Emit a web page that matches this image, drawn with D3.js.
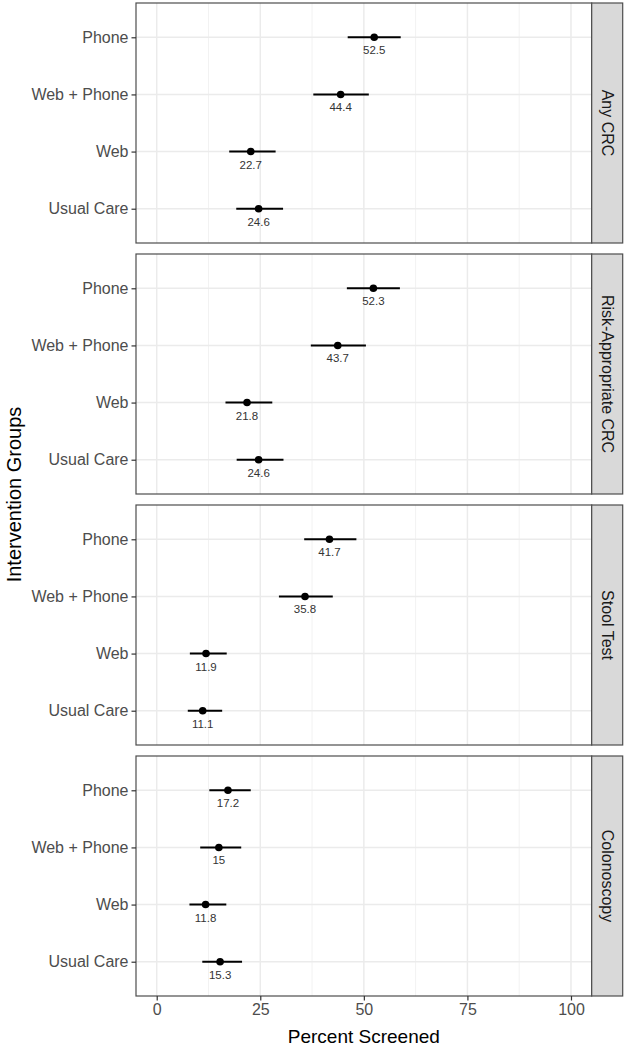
<!DOCTYPE html>
<html>
<head>
<meta charset="utf-8">
<script src="https://cdn.jsdelivr.net/npm/d3@7"></script>
<style>
  body { margin: 0; background: #fff; }
  svg { font-family: "Liberation Sans", Arial, sans-serif; display: block; }
</style>
</head>
<body>
<div id="chart"></div>
<script>
// data
var groups = ["Phone", "Web + Phone", "Web", "Usual Care"];
var outcomes = ["Any CRC", "Risk-Appropriate CRC", "Stool Test", "Colonoscopy"];
var estimates = [
    [52.5, 44.4, 22.7, 24.6],
    [52.3, 43.7, 21.8, 24.6],
    [41.7, 35.8, 11.9, 11.1],
    [17.2, 15, 11.8, 15.3]
];
var lowerCI = [
    [46.1, 37.8, 17.5, 19.2],
    [45.9, 37.2, 16.6, 19.3],
    [35.6, 29.5, 8.0, 7.5],
    [12.7, 10.5, 7.9, 11.0]
];
var upperCI = [
    [58.9, 51.2, 28.7, 30.5],
    [58.7, 50.5, 27.9, 30.6],
    [48.2, 42.5, 16.9, 15.8],
    [22.7, 20.4, 16.8, 20.6]
];
var xTicks = [0, 25, 50, 75, 100];
var xMinor = [12.5, 37.5, 62.5, 87.5];

var svgWidth = 627;
var svgHeight = 1050;

var plotLeft = 136;
var plotRight = 591.7;
var stripWidth = 31;
var panelTop = 3;
var panelHeight = 240;
var panelGap = 11;

var svg = d3.select("#chart")
    .append("svg")
    .attr("width", svgWidth)
    .attr("height", svgHeight);

var x = d3.scaleLinear()
    .domain([-5, 105])
    .range([plotLeft, plotRight]);

var y = d3.scalePoint()
    .domain(groups)
    .range([0, panelHeight])
    .padding(0.6);

outcomes.forEach(function(outcome, i) {
    var top = panelTop + i * (panelHeight + panelGap);
    var panel = svg.append("g")
        .attr("transform", `translate(0, ${top})`);

    var rows = groups.map(function(g, j) {
        return { group: g, est: estimates[i][j], lo: lowerCI[i][j], hi: upperCI[i][j] };
    });

    // minor grid
    panel.selectAll(".minor")
        .data(xMinor)
        .enter()
        .append("line")
        .attr("x1", d => x(d))
        .attr("x2", d => x(d))
        .attr("y1", 0)
        .attr("y2", panelHeight)
        .attr("stroke", "#f2f2f2")
        .attr("stroke-width", 1);

    // major grid
    panel.selectAll(".majorx")
        .data(xTicks)
        .enter()
        .append("line")
        .attr("x1", d => x(d))
        .attr("x2", d => x(d))
        .attr("y1", 0)
        .attr("y2", panelHeight)
        .attr("stroke", "#ebebeb")
        .attr("stroke-width", 1.5);

    panel.selectAll(".majory")
        .data(groups)
        .enter()
        .append("line")
        .attr("x1", plotLeft)
        .attr("x2", plotRight)
        .attr("y1", d => y(d))
        .attr("y2", d => y(d))
        .attr("stroke", "#ebebeb")
        .attr("stroke-width", 1.5);

    // error bars
    panel.selectAll(".bar")
        .data(rows)
        .enter()
        .append("line")
        .attr("x1", d => x(d.lo))
        .attr("x2", d => x(d.hi))
        .attr("y1", d => y(d.group))
        .attr("y2", d => y(d.group))
        .attr("stroke", "#000")
        .attr("stroke-width", 2);

    // points
    panel.selectAll("circle")
        .data(rows)
        .enter()
        .append("circle")
        .attr("cx", d => x(d.est))
        .attr("cy", d => y(d.group))
        .attr("r", 3.8)
        .attr("fill", "#000");

    // value labels
    panel.selectAll(".val")
        .data(rows)
        .enter()
        .append("text")
        .attr("x", d => x(d.est))
        .attr("y", d => y(d.group) + 13)
        .attr("dy", "0.35em")
        .attr("text-anchor", "middle")
        .attr("font-size", "11.5px")
        .attr("fill", "#333")
        .text(d => String(d.est));

    // panel border
    panel.append("rect")
        .attr("x", plotLeft)
        .attr("y", 0)
        .attr("width", plotRight - plotLeft)
        .attr("height", panelHeight)
        .attr("fill", "none")
        .attr("stroke", "#4d4d4d")
        .attr("stroke-width", 1.2);

    // y axis
    var leftAxis = d3.axisLeft(y).tickSize(4.5).tickPadding(3);
    var yAxis = panel.append("g")
        .attr("transform", `translate(${plotLeft}, 0)`)
        .call(leftAxis);
    yAxis.select(".domain").remove();
    yAxis.selectAll(".tick line").attr("stroke", "#333").attr("stroke-width", 1.2);
    yAxis.selectAll(".tick text")
        .attr("font-size", "16px")
        .attr("font-family", "Liberation Sans, Arial, sans-serif")
        .attr("fill", "#4d4d4d");

    // strip
    panel.append("rect")
        .attr("x", plotRight)
        .attr("y", 0)
        .attr("width", stripWidth)
        .attr("height", panelHeight)
        .attr("fill", "#d9d9d9")
        .attr("stroke", "#4d4d4d")
        .attr("stroke-width", 1.2);

    panel.append("text")
        .attr("transform", `translate(${plotRight + stripWidth / 2}, ${panelHeight / 2}) rotate(90)`)
        .attr("text-anchor", "middle")
        .attr("dy", "0.35em")
        .attr("font-size", "16px")
        .attr("fill", "#1a1a1a")
        .text(outcome);

    // x axis on last panel
    if (i === outcomes.length - 1) {
        var bottomAxis = d3.axisBottom(x).tickValues(xTicks).tickSize(4.5).tickPadding(3);
        var xAxis = panel.append("g")
            .attr("transform", `translate(0, ${panelHeight})`)
            .call(bottomAxis);
        xAxis.select(".domain").remove();
        xAxis.selectAll(".tick line").attr("stroke", "#333").attr("stroke-width", 1.2);
        xAxis.selectAll(".tick text")
            .attr("font-size", "16px")
            .attr("font-family", "Liberation Sans, Arial, sans-serif")
            .attr("fill", "#4d4d4d");
    }
});

var bottomPanel = panelTop + outcomes.length * panelHeight + (outcomes.length - 1) * panelGap;

// axis titles
svg.append("text")
    .attr("x", (plotLeft + plotRight) / 2)
    .attr("y", bottomPanel + 40)
    .attr("dy", "0.35em")
    .attr("text-anchor", "middle")
    .attr("font-size", "19px")
    .attr("fill", "#000")
    .text("Percent Screened");

svg.append("text")
    .attr("transform", `translate(14, ${(panelTop + bottomPanel) / 2 - 5}) rotate(-90)`)
    .attr("text-anchor", "middle")
    .attr("dy", "0.35em")
    .attr("font-size", "20px")
    .attr("fill", "#000")
    .text("Intervention Groups");
</script>
</body>
</html>
